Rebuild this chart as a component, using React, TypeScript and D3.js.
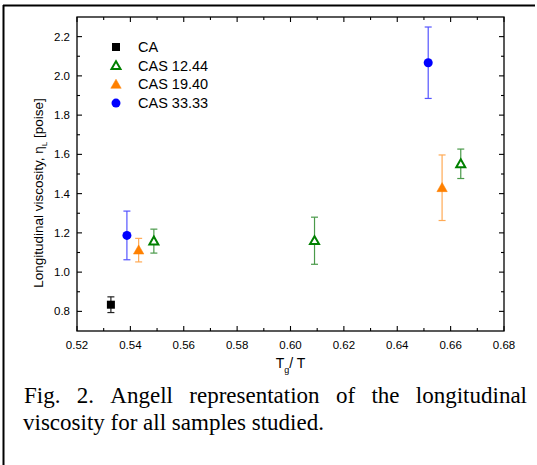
import React, { useEffect, useRef } from 'react';
import * as d3 from 'd3';

// series: x = Tg/T, y = longitudinal viscosity, e = error
const caX = [0.5327];
const caY = [0.834];
const caE = [0.04];

const cas1244X = [0.5488, 0.609, 0.6638];
const cas1244Y = [1.158, 1.16, 1.552];
const cas1244E = [0.061, 0.12, 0.075];

const cas1940X = [0.5431, 0.6568];
const cas1940Y = [1.112, 1.43];
const cas1940E = [0.06, 0.167];

const cas3333X = [0.5387, 0.6516];
const cas3333Y = [1.187, 2.067];
const cas3333E = [0.124, 0.182];

const xTicks = [0.52, 0.54, 0.56, 0.58, 0.6, 0.62, 0.64, 0.66, 0.68];
const yTicks = [0.8, 1.0, 1.2, 1.4, 1.6, 1.8, 2.0, 2.2];
const xMinor = [0.53, 0.55, 0.57, 0.59, 0.61, 0.63, 0.65, 0.67];
const yMinor = [0.9, 1.1, 1.3, 1.5, 1.7, 1.9, 2.1];

const captionLine1 = 'Fig. 2. Angell representation of the longitudinal';
const captionLine2 = 'viscosity for all samples studied.';

const series = [
    { name: 'CA', xs: caX, ys: caY, es: caE, shape: 'square', color: '#000000', bar: '#222222' },
    { name: 'CAS 12.44', xs: cas1244X, ys: cas1244Y, es: cas1244E, shape: 'halfTri', color: '#008000', bar: '#4a9a4a' },
    { name: 'CAS 19.40', xs: cas1940X, ys: cas1940Y, es: cas1940E, shape: 'tri', color: '#ff8000', bar: '#ffaa55' },
    { name: 'CAS 33.33', xs: cas3333X, ys: cas3333Y, es: cas3333E, shape: 'circle', color: '#0000ff', bar: '#5555ff' },
];

const App = () => {
    const svgRef = useRef<SVGSVGElement>(null);

    useEffect(() => {
        document.body.style.margin = '0';
        const W = 537, H = 465;
        const margin = { top: 17, right: 33, bottom: 134, left: 77 };
        const width = W - margin.left - margin.right;
        const height = H - margin.top - margin.bottom;

        const root = d3.select(svgRef.current).attr('width', W).attr('height', H);
        root.selectAll('*').remove();

        // outer frame (top and left)
        root.append('line').attr('x1', 3).attr('x2', 535).attr('y1', 5.5).attr('y2', 5.5)
            .attr('stroke', '#000').attr('stroke-width', 2);
        root.append('line').attr('x1', 3.5).attr('x2', 3.5).attr('y1', 5).attr('y2', H)
            .attr('stroke', '#000').attr('stroke-width', 2);

        const svg = root.append('g').attr('transform', `translate(${margin.left},${margin.top})`);

        const x = d3.scaleLinear().domain([0.52, 0.68]).range([0, width]);
        const y = d3.scaleLinear().domain([0.7, 2.3]).range([height, 0]);

        const font = 'Liberation Sans, Arial, sans-serif';

        // frame
        svg.append('rect').attr('width', width).attr('height', height)
            .attr('fill', 'none').attr('stroke', '#000').attr('stroke-width', 1.3);

        // inward ticks on all four sides
        const major = 5, minor = 3;
        const tk = svg.append('g').attr('stroke', '#000').attr('stroke-width', 1.1);
        xTicks.concat(xMinor).forEach(v => {
            const len = xTicks.includes(v) ? major : minor;
            tk.append('line').attr('x1', x(v)).attr('x2', x(v)).attr('y1', height).attr('y2', height - len);
            tk.append('line').attr('x1', x(v)).attr('x2', x(v)).attr('y1', 0).attr('y2', len);
        });
        yTicks.concat(yMinor).forEach(v => {
            const len = yTicks.includes(v) ? major : minor;
            tk.append('line').attr('y1', y(v)).attr('y2', y(v)).attr('x1', 0).attr('x2', len);
            tk.append('line').attr('y1', y(v)).attr('y2', y(v)).attr('x1', width).attr('x2', width - len);
        });

        svg.append('g').selectAll('text').data(xTicks).enter().append('text')
            .attr('x', d => x(d)).attr('y', height + 18)
            .attr('text-anchor', 'middle').attr('font-family', font).attr('font-size', 11.5)
            .text(d => d3.format('.2f')(d));

        svg.append('g').selectAll('text').data(yTicks).enter().append('text')
            .attr('x', -7).attr('y', d => y(d) + 4)
            .attr('text-anchor', 'end').attr('font-family', font).attr('font-size', 11.5)
            .text(d => d3.format('.1f')(d));

        // x label
        const xl = svg.append('text').attr('x', width / 2).attr('y', height + 37)
            .attr('text-anchor', 'middle').attr('font-family', font).attr('font-size', 14);
        xl.append('tspan').text('T');
        xl.append('tspan').attr('dy', 5).attr('font-size', 9).text('g');
        xl.append('tspan').attr('dy', -5).text('/ T');

        // y label
        const yl = svg.append('text').attr('transform', `translate(-34,176) rotate(-90)`)
            .attr('text-anchor', 'middle').attr('font-family', font).attr('font-size', 13.5);
        yl.append('tspan').text('Longitudinal viscosity, η');
        yl.append('tspan').attr('dy', 4).attr('font-size', 8).text('L');
        yl.append('tspan').attr('dy', -4).text(' [poise]');

        const drawMarker = (g, shape, color, cx, cy) => {
            if (shape === 'square') {
                g.append('rect').attr('x', cx - 4).attr('y', cy - 4).attr('width', 8).attr('height', 8).attr('fill', color);
            } else if (shape === 'circle') {
                g.append('circle').attr('cx', cx).attr('cy', cy).attr('r', 4.5).attr('fill', color);
            } else {
                const s = shape === 'tri' ? 5.2 : 4.5;
                const pts = [[cx, cy - s], [cx + s, cy + s * 0.75], [cx - s, cy + s * 0.75]];
                g.append('polygon').attr('points', pts.map(p => p.join(',')).join(' '))
                    .attr('fill', shape === 'tri' ? color : '#fff')
                    .attr('stroke', color).attr('stroke-width', shape === 'tri' ? 0.5 : 2);
            }
        };

        // error bars + markers
        series.forEach(s => {
            const g = svg.append('g');
            s.xs.forEach((xv, i) => {
                const cx = x(xv), lo = y(s.ys[i] - s.es[i]), hi = y(s.ys[i] + s.es[i]);
                g.append('line').attr('x1', cx).attr('x2', cx).attr('y1', lo).attr('y2', hi)
                    .attr('stroke', s.bar).attr('stroke-width', 1.2);
                [lo, hi].forEach(yy => g.append('line').attr('x1', cx - 3.5).attr('x2', cx + 3.5)
                    .attr('y1', yy).attr('y2', yy).attr('stroke', s.bar).attr('stroke-width', 1.2));
                drawMarker(g, s.shape, s.color, cx, y(s.ys[i]));
            });
        });

        // legend
        const lg = svg.append('g').attr('transform', 'translate(39,30)');
        series.forEach((s, i) => {
            const row = i * 18.7;
            drawMarker(lg, s.shape, s.color, 0, row);
            lg.append('text').attr('x', 22).attr('y', row + 5)
                .attr('font-family', font).attr('font-size', 14.5).text(s.name);
        });

        // caption, first line justified
        const serif = 'Liberation Serif, Times New Roman, serif';
        const left = 24, right = 527;
        const words = captionLine1.split(' ');
        const wt = root.append('g').selectAll('text').data(words).enter().append('text')
            .attr('y', 403).attr('font-family', serif).attr('font-size', 23).text(d => d);
        const widths = wt.nodes().map(n => (n as SVGTextElement).getComputedTextLength());
        const gap = (right - left - d3.sum(widths)) / (words.length - 1);
        let cur = left;
        wt.each(function (_, i) {
            d3.select(this).attr('x', cur);
            cur += widths[i] + gap;
        });
        root.append('text').attr('x', left - 1).attr('y', 430)
            .attr('font-family', serif).attr('font-size', 23).text(captionLine2);
    }, []);

    return <svg ref={svgRef} style={{ display: 'block', background: '#fff' }}></svg>;
};

export default App;
